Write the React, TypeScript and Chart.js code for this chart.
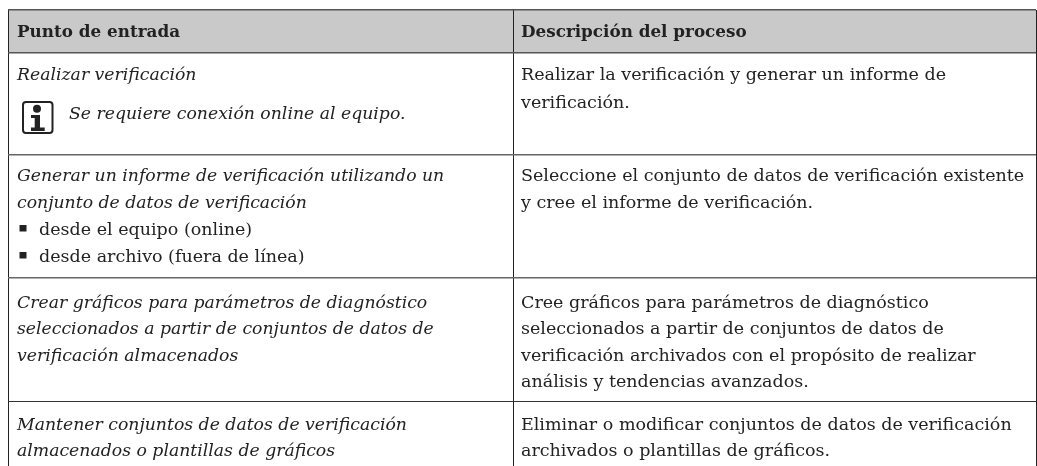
import React, { useEffect, useRef } from "react";
import { Chart, registerables } from "chart.js";

Chart.register(...registerables);

const columnHeaders = ["Punto de entrada", "Descripción del proceso"];
const entryItalicLines = [
  ["Realizar verificación", 80],
  ["Generar un informe de verificación utilizando un", 181],
  ["conjunto de datos de verificación", 208],
  ["Crear gráficos para parámetros de diagnóstico", 308],
  ["seleccionados a partir de conjuntos de datos de", 334],
  ["verificación almacenados", 361],
  ["Mantener conjuntos de datos de verificación", 430],
  ["almacenados o plantillas de gráficos", 456],
] as [string, number][];
const noteLine = "Se requiere conexión online al equipo.";
const bulletLines = [
  ["desde el equipo (online)", 235],
  ["desde archivo (fuera de línea)", 262],
] as [string, number][];
const descriptionLines = [
  ["Realizar la verificación y generar un informe de", 80],
  ["verificación.", 108],
  ["Seleccione el conjunto de datos de verificación existente", 181],
  ["y cree el informe de verificación.", 208],
  ["Cree gráficos para parámetros de diagnóstico", 308],
  ["seleccionados a partir de conjuntos de datos de", 334],
  ["verificación archivados con el propósito de realizar", 361],
  ["análisis y tendencias avanzados.", 387],
  ["Eliminar o modificar conjuntos de datos de verificación", 430],
  ["archivados o plantillas de gráficos.", 456],
] as [string, number][];

const columnEdges = [8, 513.5, 1036];
const rowEdges = [9.5, 52.5, 154.5, 278, 401];

const FAMILY = '"DejaVu Serif", serif';
const INK = "#222222";

const tablePlugin = {
  id: "table",
  beforeDraw(chart: any) {
    const { ctx, scales } = chart;
    const X = (v: number) => scales.x.getPixelForValue(v);
    const Y = (v: number) => scales.y.getPixelForValue(v);
    ctx.save();
    ctx.fillStyle = "#c9c9c9";
    ctx.fillRect(X(columnEdges[0]), Y(rowEdges[0]), X(columnEdges[2]) - X(columnEdges[0]), Y(rowEdges[1]) - Y(rowEdges[0]));
    ctx.restore();
  },
  afterDatasetsDraw(chart: any) {
    const { ctx, scales } = chart;
    const X = (v: number) => scales.x.getPixelForValue(v);
    const Y = (v: number) => scales.y.getPixelForValue(v);
    ctx.save();
    ctx.textBaseline = "alphabetic";
    ctx.fillStyle = INK;
    const put = (t: string, x: number, y: number) => ctx.fillText(t, X(x), Y(y));

    ctx.font = `bold 16.8px ${FAMILY}`;
    put(columnHeaders[0], 17, 37);
    put(columnHeaders[1], 521, 37);

    ctx.font = `italic 17.25px ${FAMILY}`;
    entryItalicLines.forEach(([t, y]) => put(t, 17, y));
    put(noteLine, 69, 119);

    ctx.font = `17.5px ${FAMILY}`;
    bulletLines.forEach(([t, y]) => {
      put(t, 39, y);
      ctx.fillRect(X(19.5), Y(y - 10), 7, 6.5);
    });
    descriptionLines.forEach(([t, y]) => put(t, 521, y));

    // info icon
    ctx.strokeStyle = INK;
    ctx.lineWidth = 2;
    ctx.beginPath();
    ctx.roundRect(X(23), Y(102), 29.5, 31, 3);
    ctx.stroke();
    ctx.beginPath();
    ctx.arc(X(37), Y(108.7), 4, 0, Math.PI * 2);
    ctx.fill();
    ctx.fillRect(X(31), Y(115), 9, 3);
    ctx.fillRect(X(34.7), Y(115), 5.3, 14);
    ctx.fillRect(X(31), Y(127.5), 13.7, 3.5);
    ctx.restore();
  },
};

const horizontalWidths = [1.5, 1.5, 1.5, 1.5, 1];
const horizontalColors = ["#555555", "#555555", "#666666", "#666666", "#333333"];

export default function App() {
  const ref = useRef<HTMLCanvasElement>(null);
  useEffect(() => {
    const chart = new Chart(ref.current!, {
      type: "scatter",
      data: { datasets: [{ data: [], pointRadius: 0 }] },
      plugins: [tablePlugin],
      options: {
        animation: false,
        responsive: false,
        layout: { padding: { left: 8, right: 1, top: 9.5, bottom: 0 } },
        plugins: { legend: { display: false }, tooltip: { enabled: false } },
        scales: {
          x: {
            type: "linear",
            min: 8,
            max: 1036,
            position: "top",
            afterBuildTicks: (s: any) => { s.ticks = columnEdges.map((value) => ({ value })); },
            afterFit: (s: any) => { s.height = 0; },
            ticks: { display: false },
            border: { display: false },
            grid: { drawTicks: false, lineWidth: 1, color: "#222222" },
          },
          y: {
            type: "linear",
            min: 9.5,
            max: 466,
            reverse: true,
            afterBuildTicks: (s: any) => { s.ticks = rowEdges.map((value) => ({ value })); },
            afterFit: (s: any) => { s.width = 0; },
            ticks: { display: false },
            border: { display: false },
            grid: {
              drawTicks: false,
              lineWidth: (c: any) => horizontalWidths[c.index] ?? 1,
              color: (c: any) => horizontalColors[c.index] ?? "#555555",
            },
          },
        },
      },
    } as any);
    return () => chart.destroy();
  }, []);
  return (
    <div style={{ position: "fixed", left: 0, top: 0, width: 1037, height: 466, background: "#fff" }}>
      <canvas ref={ref} width={1037} height={466} style={{ display: "block" }} />
    </div>
  );
}
